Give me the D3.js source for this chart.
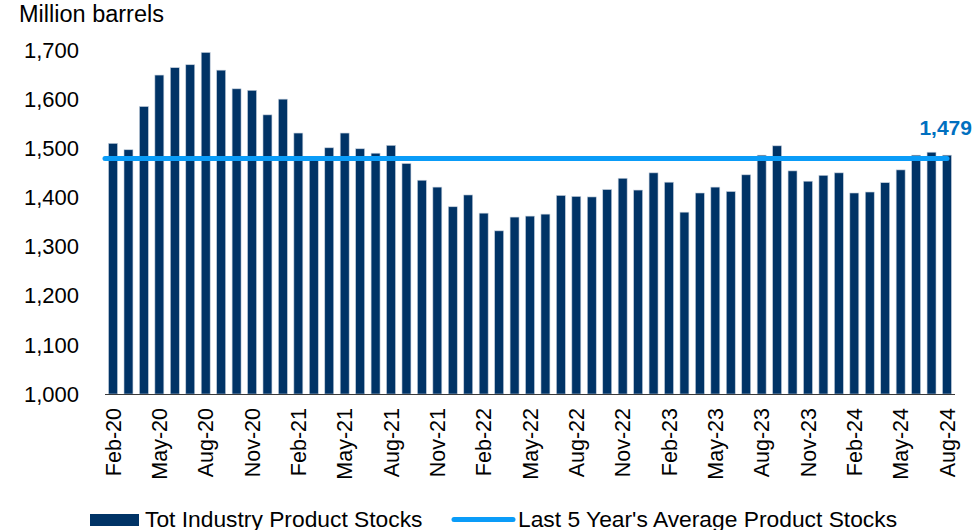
<!DOCTYPE html>
<html>
<head>
<meta charset="utf-8">
<script src="https://cdn.jsdelivr.net/npm/d3@7"></script>
<style>
body { margin: 0; background: #fff; }
svg { display: block; font-family: "Liberation Sans", Arial, sans-serif; }
</style>
</head>
<body>
<svg></svg>
<script>
var months = ["Feb-20","Mar-20","Apr-20","May-20","Jun-20","Jul-20","Aug-20","Sep-20","Oct-20","Nov-20","Dec-20",
    "Jan-21","Feb-21","Mar-21","Apr-21","May-21","Jun-21","Jul-21","Aug-21","Sep-21","Oct-21","Nov-21","Dec-21",
    "Jan-22","Feb-22","Mar-22","Apr-22","May-22","Jun-22","Jul-22","Aug-22","Sep-22","Oct-22","Nov-22","Dec-22",
    "Jan-23","Feb-23","Mar-23","Apr-23","May-23","Jun-23","Jul-23","Aug-23","Sep-23","Oct-23","Nov-23","Dec-23",
    "Jan-24","Feb-24","Mar-24","Apr-24","May-24","Jun-24","Jul-24","Aug-24"];
var stocks = [1510,1497,1585,1649,1664,1670,1695,1659,1621,1618,1568,
    1600,1531,1477,1501,1531,1499,1490,1506,1469,1435,1421,1381,
    1405,1368,1332,1360,1362,1366,1404,1402,1401,1416,1439,1415,
    1450,1431,1370,1409,1421,1412,1446,1486,1505,1454,1433,1445,
    1450,1409,1411,1430,1456,1486,1492,1486];
var avg5yr = 1479;
var yTicks = [1000,1100,1200,1300,1400,1500,1600,1700];
var seriesNames = ["Tot Industry Product Stocks", "Last 5 Year's Average Product Stocks"];

var width = 978, height = 530;
var barColor = "#003366", lineColor = "#0A9CF8";

var svg = d3.select("svg").attr("width", width).attr("height", height);

var x = d3.scaleBand()
    .domain(months)
    .range([105, 955])
    .paddingInner(0.42)
    .paddingOuter(0.23);

var y = d3.scaleLinear()
    .domain([1000, 1700])
    .range([394, 50]);

svg.append("text")
    .attr("x", 19)
    .attr("y", 22)
    .attr("font-size", "23.5px")
    .attr("fill", "#000")
    .text("Million barrels");

// y labels, no axis line
svg.append("g")
    .selectAll("text")
    .data(yTicks)
    .enter().append("text")
    .attr("x", 79)
    .attr("y", function (d) { return y(d); })
    .attr("dy", "0.35em")
    .attr("text-anchor", "end")
    .attr("font-size", "22px")
    .text(function (d) { return d3.format(",")(d); });

svg.append("g")
    .selectAll("rect")
    .data(stocks)
    .enter().append("rect")
    .attr("x", function (d, i) { return x(months[i]); })
    .attr("y", function (d) { return y(d); })
    .attr("width", x.bandwidth())
    .attr("height", function (d) { return y(1000) - y(d); })
    .attr("fill", barColor)
    .attr("stroke", "#c4cfdc")
    .attr("stroke-width", 0.6);

svg.append("line")
    .attr("x1", x.range()[0])
    .attr("x2", x.range()[1])
    .attr("y1", y(1000) + 0.5)
    .attr("y2", y(1000) + 0.5)
    .attr("stroke", "#3a3a3a")
    .attr("stroke-width", 1.2);

var lastX = x(months[months.length - 1]) + x.bandwidth() / 2;

svg.append("line")
    .attr("x1", x.range()[0])
    .attr("x2", lastX)
    .attr("y1", y(avg5yr))
    .attr("y2", y(avg5yr))
    .attr("stroke", lineColor)
    .attr("stroke-width", 5)
    .attr("stroke-linecap", "round");

svg.append("text")
    .attr("x", lastX + 25)
    .attr("y", y(avg5yr) - 24)
    .attr("text-anchor", "end")
    .attr("font-size", "21px")
    .attr("font-weight", "bold")
    .attr("fill", "#0070C0")
    .text(d3.format(",")(avg5yr));

// x labels every 3 months
svg.append("g")
    .selectAll("text")
    .data(months.filter(function (d, i) { return i % 3 === 0; }))
    .enter().append("text")
    .attr("transform", function (d) {
        return "translate(" + (x(d) + x.bandwidth() / 2) + ",408) rotate(-90)";
    })
    .attr("dy", "0.35em")
    .attr("text-anchor", "end")
    .attr("font-size", "21.5px")
    .text(function (d) { return d; });

var legend = svg.append("g");
legend.append("rect")
    .attr("x", 90)
    .attr("y", 514)
    .attr("width", 49)
    .attr("height", 12)
    .attr("fill", barColor);
legend.append("text")
    .attr("x", 145)
    .attr("y", 526.5)
    .attr("font-size", "22.8px")
    .text(seriesNames[0]);
legend.append("line")
    .attr("x1", 454)
    .attr("x2", 513)
    .attr("y1", 519.5)
    .attr("y2", 519.5)
    .attr("stroke", lineColor)
    .attr("stroke-width", 5)
    .attr("stroke-linecap", "round");
legend.append("text")
    .attr("x", 518)
    .attr("y", 526.5)
    .attr("font-size", "22.8px")
    .text(seriesNames[1]);
</script>
</body>
</html>
